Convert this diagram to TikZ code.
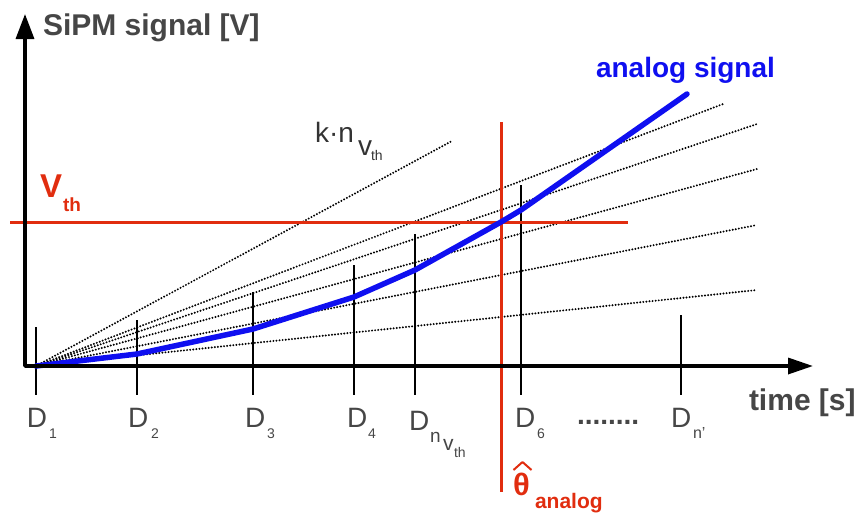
\documentclass[tikz,border=0pt]{standalone}
\usepackage{fontspec}
\setmainfont{Liberation Sans}
\usetikzlibrary{arrows.meta}
\definecolor{txtgray}{RGB}{70,70,70}
\definecolor{sigred}{RGB}{225,45,15}
\definecolor{sigblue}{RGB}{15,15,240}
\newcommand{\fs}[1]{\fontsize{#1}{#1}\selectfont}
\begin{document}
\begin{tikzpicture}[x=1pt,y=-1pt,
  axis/.style={line width=3.4pt, line join=round},
  ticks/.style={line width=2.4pt},
  guide/.style={line width=2.2pt, line cap=round, dash pattern=on 0pt off 3.1pt, black},
  signal/.style={line width=5.5pt, sigblue, line join=round, line cap=round},
  thr/.style={line width=3pt, sigred},
  lbl/.style={anchor=base west, inner sep=0pt, outer sep=0pt},
  axlbl/.style={lbl, font=\fs{30}\bfseries, text=txtgray},
  dlbl/.style={lbl, font=\fs{28}, text=txtgray},
  dsub/.style={lbl, font=\fs{14}, text=txtgray},
  redlbl/.style={lbl, text=sigred}
]
\useasboundingbox (0,0) rectangle (862,512);

% axes
\coordinate (O) at (25,366);
\coordinate (ytip) at (25,14);
\coordinate (xtip) at (813,366);

% ticks
\foreach \n/\x/\t in {1/36/327, 2/137/320, 3/253/292, 4/354/265, v/415/234, 6/521/185, p/681/315} {
  \coordinate (T\n a) at (\x,\t);
  \coordinate (T\n b) at (\x,395);
  \draw[ticks] (T\n a) -- (T\n b);
}

% dotted guide lines
\coordinate (S) at (36,366);
\coordinate (g1) at (452,141);
\coordinate (g2) at (723,104);
\coordinate (g3) at (757,124);
\coordinate (g4) at (757,169);
\coordinate (g5) at (757,225);
\coordinate (g6) at (757,290);
\foreach \g in {g1,g2,g3,g4,g5,g6} \draw[guide] (S) -- (\g);

% threshold lines
\coordinate (h1) at (10,222);
\coordinate (h2) at (628,222);
\coordinate (v1) at (501,122);
\coordinate (v2) at (501,492);
\draw[thr] (h1) -- (h2);
\draw[thr] (v1) -- (v2);

% analog signal
\coordinate (b2) at (137,354);
\coordinate (b3) at (253,329);
\coordinate (b4) at (354,297);
\coordinate (b5) at (415,270);
\coordinate (b6) at (501,222);
\coordinate (b7) at (521,210);
\coordinate (b8) at (687,94);
\draw[signal] (S) -- (b2) -- (b3) -- (b4) -- (b5) -- (b6) -- (b7) -- (b8);

\draw[axis, {Triangle[length=25pt,width=18pt]}-{Triangle[length=25pt,width=16pt]}] (ytip) -- (O) -- (xtip);

% axis labels
\node[axlbl] (ylab) at (43,35) {SiPM signal [V]};
\node[axlbl] (xlab) at (749,410) {time [s]};
\node[lbl, font=\fs{28}\bfseries, text=sigblue] (siglab) at (596,77) {analog signal};

% V_th
\node[redlbl, font=\fs{33}\bfseries] (vth) at (40,197) {V};
\node[redlbl, font=\fs{19}\bfseries] (vthsub) at (63,211) {th};

% k . n_v_th
\node[lbl, font=\fs{28}, text=black!80] (kn) at (315,142) {k·n};
\node[lbl, font=\fs{28}, text=black!80] (knv) at (358,155) {v};
\node[lbl, font=\fs{14}, text=black!80] (knth) at (371,160) {th};

% D labels
\node[dlbl] (D1) at (27,427) {D};   \node[dsub] (D1s) at (49,438) {1};
\node[dlbl] (D2) at (128,427) {D};  \node[dsub] (D2s) at (151,438) {2};
\node[dlbl] (D3) at (245,427) {D};  \node[dsub] (D3s) at (267,438) {3};
\node[dlbl] (D4) at (347,427) {D};  \node[dsub] (D4s) at (368,438) {4};
\node[dlbl] (Dv) at (409,430) {D};
\node[lbl, font=\fs{19}, text=txtgray] (Dvn) at (430,442) {n};
\node[lbl, font=\fs{21}, text=txtgray] (Dvv) at (443,450) {v};
\node[dsub] (Dvth) at (454,457) {th};
\node[dlbl] (D6) at (515,427) {D};  \node[dsub] (D6s) at (537,438) {6};
\node[lbl, font=\fs{28}\bfseries, text=txtgray] (dots) at (577,424) {........};
\node[dlbl] (Dp) at (671,427) {D};  \node[lbl, font=\fs{16}, text=txtgray] (Dps) at (693,438) {n'};

% theta hat analog
\node[redlbl, font=\fs{31}\bfseries] (theta) at (513,495) {θ};
\draw[sigred, line width=2pt, line join=round] (513.5,470) -- (522.5,462) -- (531.5,470);
\node[redlbl, font=\fs{21}\bfseries] (thsub) at (535,508) {analog};
\end{tikzpicture}
\end{document}
